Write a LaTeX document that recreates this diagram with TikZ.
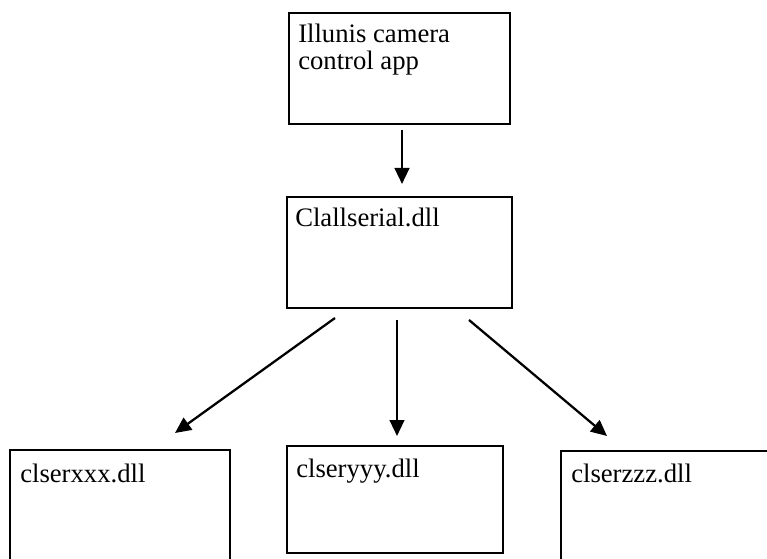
\documentclass[tikz,border=0pt]{standalone}
\usepackage{fontspec}
\setmainfont{Liberation Serif}
\usetikzlibrary{arrows.meta}
\tikzset{
  box/.style={draw=black, line width=1.7pt, rectangle, inner sep=0pt},
  lbl/.style={anchor=base west, inner sep=0pt, font=\fontsize{20}{20.25}\selectfont},
  conn/.style={line width=1.7pt, -{Triangle[length=12pt,width=11pt]}}
}
\begin{document}
\begin{tikzpicture}[x=0.75pt,y=-0.75pt]
\clip (0,0) rectangle (767,559);
\fill[white] (0,0) rectangle (767,559);
% boxes
\node[box, minimum width=165.75pt, minimum height=83.25pt] (top) at (399.5,68.5) {};
\node[box, minimum width=168.75pt, minimum height=83.25pt] (mid) at (399.5,252.5) {};
\node[box, minimum width=165pt, minimum height=86.25pt] (lft) at (120,507.5) {};
\node[box, minimum width=162pt, minimum height=80.25pt] (ctr) at (395,499.5) {};
\node[box, minimum width=160.5pt, minimum height=85.5pt] (rgt) at (668,508) {};
% labels
\node[lbl] (ttop) at (298,43) {Illunis camera};
\node[lbl] (ttop2) at (298,70) {control app};
\node[lbl] (tmid) at (295,227) {Clallserial.dll};
\node[lbl] (tlft) at (20,482) {clserxxx.dll};
\node[lbl] (tctr) at (296,477) {clseryyy.dll};
\node[lbl] (trgt) at (571,482) {clserzzz.dll};
% connector end points
\coordinate (s1) at (402,130);
\coordinate (e1) at (402,184);
\coordinate (s2) at (335,318);
\coordinate (e2) at (175,433);
\coordinate (s3) at (397,320);
\coordinate (e3) at (397,436);
\coordinate (s4) at (469,320);
\coordinate (e4) at (607,436);
\draw[conn] (s1) -- (e1);
\draw[conn] (s2) -- (e2);
\draw[conn] (s3) -- (e3);
\draw[conn] (s4) -- (e4);
\end{tikzpicture}
\end{document}
